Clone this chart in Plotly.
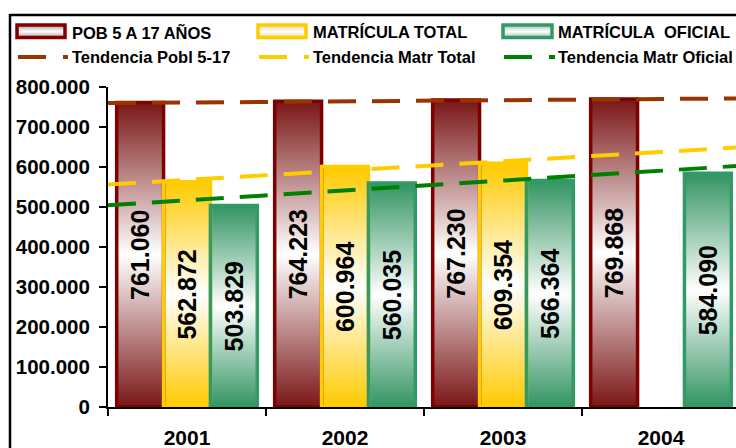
import base64
import numpy as np
import plotly.graph_objects as go

# ---------------- data ----------------
years = ["2001", "2002", "2003", "2004"]
pob = [761060, 764223, 767230, 769868]
mat_total = [562872, 600964, 609354, None]
mat_oficial = [503829, 560035, 566364, 584090]
y_ticks = [0, 100000, 200000, 300000, 400000, 500000, 600000, 700000, 800000]
bar_names = ["POB 5 A 17 AÑOS", "MATRÍCULA TOTAL", "MATRÍCULA\u00a0 OFICIAL"]
trend_names = ["Tendencia Pobl 5-17", "Tendencia Matr Total", "Tendencia Matr Oficial"]

# ---------------- geometry ----------------
W, H = 736, 448
L, T, B = 108, 87, 41
PW, PH = W - L, H - T - B
CAT_PX = 158.0
XMIN = -0.5
XMAX = -0.5 + PW / CAT_PX
BARGAP = 0.11


def px(x):
    return (x - L) / PW


def py(y):
    return (H - B - y) / PH


def grad_svg(c_edge, c_mid="white"):
    svg = ("<svg xmlns='http://www.w3.org/2000/svg' width='10' height='100' viewBox='0 0 10 100' "
           "preserveAspectRatio='none'><defs><linearGradient id='g' x1='0' y1='0' x2='0' y2='1'>"
           f"<stop offset='0' stop-color='{c_edge}'/><stop offset='0.5' stop-color='{c_mid}'/>"
           f"<stop offset='1' stop-color='{c_edge}'/></linearGradient></defs>"
           "<rect x='0' y='0' width='10' height='100' fill='url(#g)'/></svg>")
    return "data:image/svg+xml;base64," + base64.b64encode(svg.encode()).decode()


series = [
    dict(name=bar_names[0], vals=pob, edge="rgb(122,22,22)", border="#800000",
         trend="#993300", tname=trend_names[0], sym_edge="rgb(170,150,150)"),
    dict(name=bar_names[1], vals=mat_total, edge="rgb(255,202,0)", border="#FFCC00",
         trend="#FFCC00", tname=trend_names[1], sym_edge="rgb(240,215,150)"),
    dict(name=bar_names[2], vals=mat_oficial, edge="rgb(50,148,98)", border="#339966",
         trend="#008000", tname=trend_names[2], sym_edge="rgb(150,195,170)"),
]

FONT = "Liberation Sans, Arial, sans-serif"

fig = go.Figure()
xs = list(range(len(years)))
images = []
slot = (1 - BARGAP) / len(series)

for j, s in enumerate(series):
    vals = s["vals"]
    src = grad_svg(s["edge"])
    for x, v in zip(xs, vals):
        if v is None:
            continue
        images.append(dict(source=src, xref="x", yref="y",
                           x=x - (1 - BARGAP) / 2 + j * slot, y=v,
                           sizex=slot, sizey=v, xanchor="left", yanchor="top",
                           sizing="stretch", layer="below"))
    labels = ["" if v is None else f"{v:,}".replace(",", ".") for v in vals]
    fig.add_trace(go.Bar(
        x=xs, y=vals, name=s["name"],
        marker=dict(color="rgba(0,0,0,0)", line=dict(color=s["border"], width=3.5)),
        text=labels, textposition="inside", insidetextanchor="middle",
        textangle=-90, constraintext="none",
        textfont=dict(family=FONT, size=25, color="black", weight="bold"),
        showlegend=False, hoverinfo="skip"))

# trend lines (linear regression on the data, as in the original)
for s in series:
    pts = [(x, v) for x, v in zip(xs, s["vals"]) if v is not None]
    a, c = np.polyfit([p[0] for p in pts], [p[1] for p in pts], 1)
    tx = [XMIN, XMAX]
    fig.add_trace(go.Scatter(
        x=tx, y=[a * x + c for x in tx], mode="lines", name=s["tname"],
        line=dict(color=s["trend"], width=4, dash="28px,16px"),
        showlegend=False, hoverinfo="skip"))

shapes = []
annotations = []
# chart frame
shapes.append(dict(type="line", xref="paper", yref="paper", x0=px(10), x1=px(740),
                   y0=py(15), y1=py(15), line=dict(color="black", width=2.5)))
shapes.append(dict(type="line", xref="paper", yref="paper", x0=px(10), x1=px(10),
                   y0=py(14), y1=py(460), line=dict(color="black", width=2.5)))

# manual legend
cols = [(17, 65, 72), (258, 306, 313), (503, 552, 558)]
for s, (x0, x1, tx) in zip(series, cols):
    images.append(dict(source=grad_svg(s["sym_edge"]), xref="paper", yref="paper",
                       x=px(x0), y=py(25), sizex=px(x1) - px(x0), sizey=py(25) - py(38),
                       xanchor="left", yanchor="top", sizing="stretch", layer="above"))
    shapes.append(dict(type="rect", xref="paper", yref="paper", x0=px(x0), x1=px(x1),
                       y0=py(25), y1=py(37.5), fillcolor="rgba(0,0,0,0)",
                       line=dict(color=s["border"], width=3.5)))
    shapes.append(dict(type="line", xref="paper", yref="paper", x0=px(x0 + 1), x1=px(x1 + 3),
                       y0=py(57), y1=py(57),
                       line=dict(color=s["trend"], width=4, dash="28px,17px")))
    annotations.append(dict(xref="paper", yref="paper", x=px(tx - 2), y=py(32), text=s["name"],
                            showarrow=False, xanchor="left", yanchor="middle",
                            font=dict(family=FONT, size=16.5, color="black", weight="bold")))
    annotations.append(dict(xref="paper", yref="paper", x=px(tx - 2), y=py(57.5), text=s["tname"],
                            showarrow=False, xanchor="left", yanchor="middle",
                            font=dict(family=FONT, size=16.5, color="black", weight="bold")))

fig.update_layout(
    width=W, height=H,
    margin=dict(l=L, r=0, t=T, b=B, pad=0),
    paper_bgcolor="white", plot_bgcolor="white",
    barmode="group", bargap=BARGAP, bargroupgap=0,
    separators=",.",
    showlegend=False,
    shapes=shapes, annotations=annotations, images=images,
    xaxis=dict(range=[XMIN, XMAX], tickmode="array", tickvals=xs, ticktext=years,
               ticks="", showgrid=False, zeroline=False, showline=True, automargin=False,
               linecolor="black", linewidth=2, ticklabelstandoff=11,
               tickfont=dict(family=FONT, size=21, color="black", weight="bold"),
               minor=dict(tickmode="array", tickvals=[x - 0.5 for x in xs] + [len(xs) - 0.5],
                          ticks="outside", ticklen=7, tickwidth=2, tickcolor="black",
                          showgrid=False)),
    yaxis=dict(range=[0, 800000], tickmode="array", tickvals=y_ticks, tickformat=",d",
               ticks="outside", ticklen=7, tickwidth=2, tickcolor="black", automargin=False,
               showgrid=False, zeroline=False, showline=True, linecolor="black",
               linewidth=2, ticklabelstandoff=5,
               tickfont=dict(family=FONT, size=20.5, color="black", weight="bold")),
)

fig.write_html("out.html", config={"displayModeBar": False},
               post_script="document.body.style.margin='0px';document.body.style.overflow='hidden';")
